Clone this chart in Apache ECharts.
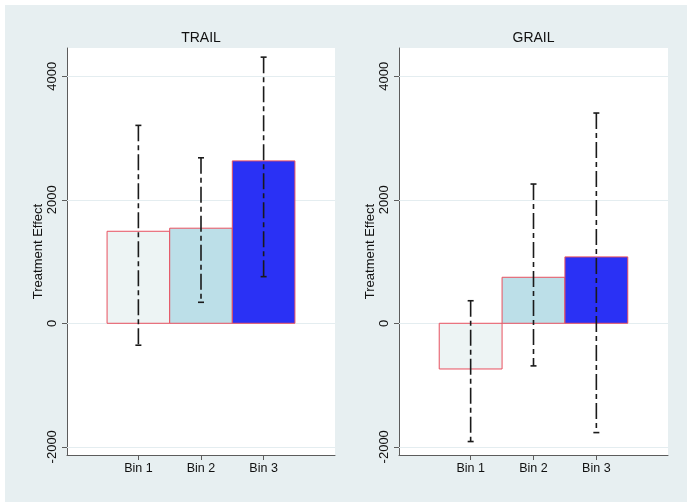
<!DOCTYPE html>
<html>
<head>
<meta charset="utf-8">
<script src="https://cdn.jsdelivr.net/npm/echarts@6/dist/echarts.min.js"></script>
<style>
  html, body { margin: 0; padding: 0; background: #ffffff; }
  #chart { position: absolute; left: 5px; top: 5px; width: 682px; height: 497px; }
</style>
</head>
<body>
<div id="chart"></div>
<script>
// ---- data ----
var categories = ['Bin 1', 'Bin 2', 'Bin 3'];
var binPositions = [1, 2, 3];
var panelTitles = ['TRAIL', 'GRAIL'];
var yTicks = [-2000, 0, 2000, 4000];

var trailEffect = [1490, 1540, 2630];
var trailLower  = [-355, 340, 755];
var trailUpper  = [3205, 2680, 4310];

var grailEffect = [-740, 745, 1075];
var grailLower  = [-1915, -690, -1770];
var grailUpper  = [365, 2255, 3405];

// ---- styling ----
var FONT = "'Liberation Sans', Arial, Helvetica, sans-serif";
var barFill = ['#edf4f4', '#bcdfe8', '#2a31f5'];
var barStroke = '#e8505f';
var axisColor = '#5c5c5c';
var gridColor = '#e4edf0';

var chart = echarts.init(document.getElementById('chart'));

function xAxisFor(idx) {
  return {
    type: 'value', gridIndex: idx, min: -0.14, max: 4.14,
    axisLine: { show: true, onZero: false, lineStyle: { color: axisColor, width: 1 } },
    axisTick: { show: true, customValues: binPositions, length: 5, inside: false,
                lineStyle: { color: axisColor, width: 1 } },
    axisLabel: { show: true, customValues: binPositions, margin: 7,
                 color: '#111', fontSize: 12.5, fontFamily: FONT,
                 formatter: function (v) {
                   var i = binPositions.indexOf(Math.round(v));
                   return i >= 0 ? categories[i] : '';
                 } },
    splitLine: { show: false }
  };
}
function yAxisFor(idx) {
  return {
    type: 'value', gridIndex: idx, min: -2133, max: 4458,
    name: 'Treatment Effect', nameLocation: 'middle', nameGap: 22, nameRotate: 90,
    nameTextStyle: { color: '#111', fontSize: 13, fontFamily: FONT },
    axisLine: { show: true, onZero: false, lineStyle: { color: axisColor, width: 1 } },
    axisTick: { show: true, customValues: yTicks, length: 5, inside: false,
                lineStyle: { color: axisColor, width: 1 } },
    axisLabel: { show: true, customValues: yTicks, rotate: 90, margin: 8,
                 color: '#111', fontSize: 13, fontFamily: FONT,
                 formatter: function (v) { return String(Math.round(v)); } },
    splitLine: { show: false }
  };
}

function gridSeries(idx) {
  return {
    type: 'line', xAxisIndex: idx, yAxisIndex: idx, data: [], silent: true, z: 1,
    markLine: {
      silent: true, symbol: 'none', animation: false, z: 1,
      label: { show: false },
      lineStyle: { color: gridColor, width: 1, type: 'solid' },
      data: yTicks.map(function (t) { return { yAxis: t }; })
    }
  };
}

function barSeries(idx, values) {
  return {
    type: 'custom', xAxisIndex: idx, yAxisIndex: idx,
    data: values.map(function (v, i) { return [binPositions[i], v, i]; }),
    renderItem: function (params, api) {
      var x = api.value(0), v = api.value(1), k = api.value(2);
      var p0 = api.coord([x - 0.5, 0]);
      var p1 = api.coord([x + 0.5, v]);
      return {
        type: 'rect',
        shape: { x: p0[0], y: Math.min(p0[1], p1[1]), width: p1[0] - p0[0], height: Math.abs(p1[1] - p0[1]) },
        style: { fill: barFill[k], stroke: barStroke, lineWidth: 1 }
      };
    },
    z: 2
  };
}

function errSeries(idx, lo, hi) {
  return {
    type: 'custom', xAxisIndex: idx, yAxisIndex: idx,
    data: lo.map(function (l, i) { return [binPositions[i], l, hi[i]]; }),
    renderItem: function (params, api) {
      var x = api.value(0);
      var pl = api.coord([x, api.value(1)]);
      var ph = api.coord([x, api.value(2)]);
      var c = '#1a1a1a', cw = 3;
      return {
        type: 'group',
        children: [
          { type: 'line', shape: { x1: ph[0], y1: ph[1], x2: pl[0], y2: pl[1] },
            style: { stroke: c, lineWidth: 1.6, lineDash: [16, 4, 5, 4] } },
          { type: 'line', shape: { x1: ph[0] - cw, y1: ph[1], x2: ph[0] + cw, y2: ph[1] },
            style: { stroke: c, lineWidth: 1.6 } },
          { type: 'line', shape: { x1: pl[0] - cw, y1: pl[1], x2: pl[0] + cw, y2: pl[1] },
            style: { stroke: c, lineWidth: 1.6 } }
        ]
      };
    },
    z: 3
  };
}

var option = {
  animation: false,
  backgroundColor: '#e7eff1',
  grid: [
    { left: 62, top: 43, width: 268, height: 407, backgroundColor: '#ffffff', show: true, borderWidth: 0 },
    { left: 394, top: 43, width: 269, height: 407, backgroundColor: '#ffffff', show: true, borderWidth: 0 }
  ],
  xAxis: [xAxisFor(0), xAxisFor(1)],
  yAxis: [yAxisFor(0), yAxisFor(1)],
  graphic: [
    { type: 'text', x: 196, y: 33,
      style: { text: panelTitles[0], font: '14px ' + FONT, fill: '#111',
               textAlign: 'center', textVerticalAlign: 'middle', align: 'center', verticalAlign: 'middle' } },
    { type: 'text', x: 528.5, y: 33,
      style: { text: panelTitles[1], font: '14px ' + FONT, fill: '#111',
               textAlign: 'center', textVerticalAlign: 'middle', align: 'center', verticalAlign: 'middle' } }
  ],
  series: [
    gridSeries(0),
    barSeries(0, trailEffect),
    errSeries(0, trailLower, trailUpper),
    gridSeries(1),
    barSeries(1, grailEffect),
    errSeries(1, grailLower, grailUpper)
  ]
};
chart.setOption(option);
</script>
</body>
</html>
